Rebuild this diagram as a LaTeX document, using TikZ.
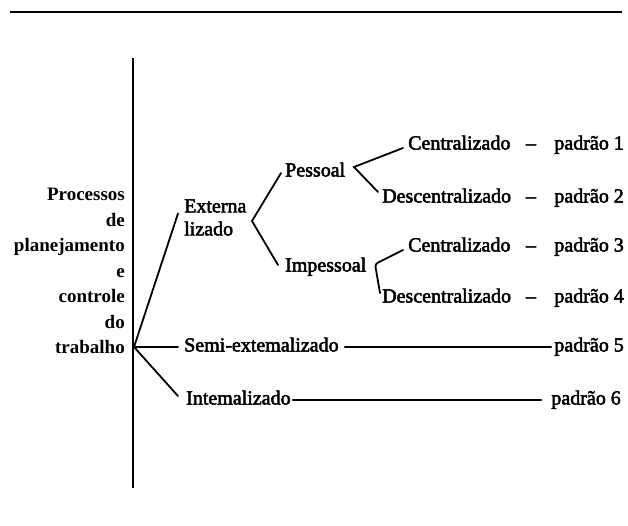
\documentclass[tikz,border=0pt]{standalone}
\usepackage{fontspec}
\setmainfont{Liberation Serif}
\newfontfamily\heavyserif[FakeBold=2.5,Ligatures=TeX]{Liberation Serif}
\tikzset{
  txt/.style={inner sep=0pt,font=\heavyserif\fontsize{20}{25.5}\selectfont},
  row/.style={txt,text height=13.5pt,text depth=4.5pt},
  branch/.style={line width=1.8pt,line cap=round},
}

\begin{document}
\begin{tikzpicture}[x=1pt,y=-1pt]
\useasboundingbox (0,0) rectangle (628,525);

% top rule
\coordinate (ruleL) at (10,12);
\coordinate (ruleR) at (622,12);
\draw [line width=2pt] (ruleL) -- (ruleR);

% main axis
\coordinate (axtop) at (133,58);
\coordinate (axbot) at (133,488);
\draw [line width=2.4pt] (axtop) -- (axbot);
\coordinate (root) at (134,347);

% title of the tree
\node (proc) at (125,271) [txt,anchor=east,align=right,font=\bfseries\fontsize{19}{25.5}\selectfont] {Processos\\de\\planejamento\\e\\controle\\do\\trabalho};

% first level
\node (ext) at (184,217.5) [txt,anchor=west,align=left,font=\heavyserif\fontsize{20}{23}\selectfont] {Externa\\lizado};
\node (semi) at (184,347) [row,anchor=west] {Semi-extemalizado};
\node (intn) at (186,400) [row,anchor=west] {Intemalizado};
\draw [branch] (root) -- ([xshift=-6pt,yshift=4pt]ext.west);
\draw [branch] (root) -- ([xshift=-6pt]semi.west);
\draw [branch] (root) -- ([xshift=-8pt,yshift=4pt]intn.west);

% second level
\node (pes) at (285,172) [row,anchor=west] {Pessoal};
\node (imp) at (285,267) [row,anchor=west] {Impessoal};
\coordinate (extv) at (252,221);
\draw [branch] ([xshift=-4pt,yshift=-1pt]pes.west) -- (extv) -- ([xshift=-7pt,yshift=2pt]imp.west);

% third level
\node (c1) at (408,145) [row,anchor=west] {Centralizado};
\node (d2) at (382,198) [row,anchor=west] {Descentralizado};
\node (c3) at (408,247) [row,anchor=west] {Centralizado};
\node (d4) at (382,298) [row,anchor=west] {Descentralizado};
\coordinate (pesv) at (354,167);
\coordinate (impv) at (375,264);
\draw [branch] ([xshift=-5pt,yshift=-3pt]c1.west) -- (pesv) -- ([xshift=-4pt,yshift=6pt]d2.west);
\draw [branch,rounded corners=3pt] ([xshift=-5pt,yshift=-3pt]c3.west) -- (impv) -- ([xshift=-2pt,yshift=5pt]d4.west);

% dashes and patterns
\node (dash1) at (531,145) [row] {–};
\node (dash2) at (531,198) [row] {–};
\node (dash3) at (531,247) [row] {–};
\node (dash4) at (531,298) [row] {–};
\node (pad1) at (624,145) [row,anchor=east] {padrão 1};
\node (pad2) at (624,198) [row,anchor=east] {padrão 2};
\node (pad3) at (624,247) [row,anchor=east] {padrão 3};
\node (pad4) at (624,298) [row,anchor=east] {padrão 4};
\node (pad5) at (624,347) [row,anchor=east] {padrão 5};
\node (pad6) at (621,400) [row,anchor=east] {padrão 6};
\draw [branch] ([xshift=6pt]semi.east) -- ([xshift=-3pt]pad5.west);
\draw [branch] ([xshift=2pt]intn.east) -- ([xshift=-10pt]pad6.west);

\end{tikzpicture}
\end{document}
